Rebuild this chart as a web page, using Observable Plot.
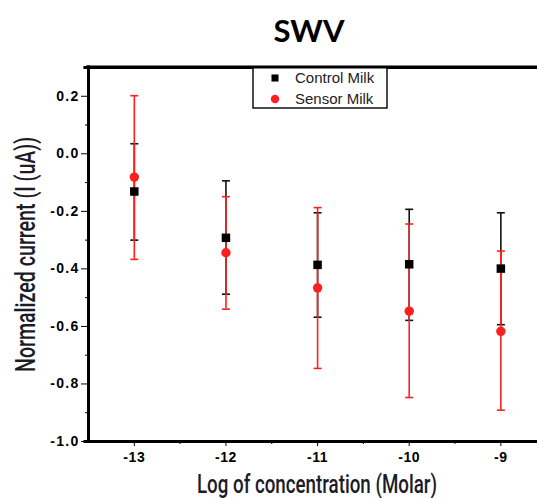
<!DOCTYPE html>
<html>
<head>
<meta charset="utf-8">
<script src="https://cdn.jsdelivr.net/npm/d3@7"></script>
<script src="https://cdn.jsdelivr.net/npm/@observablehq/plot@0.6"></script>
<style>
  html, body { margin: 0; padding: 0; background: #fff; }
  #chart svg { display: block; }
</style>
</head>
<body>
<div id="chart"></div>
<script>
// ---- data ----
const concentrations = [-13, -12, -11, -10, -9];
const controlMean = [-0.131, -0.292, -0.386, -0.384, -0.399];
const controlLow  = [-0.300, -0.488, -0.568, -0.579, -0.594];
const controlHigh = [ 0.035, -0.094, -0.205, -0.193, -0.205];
const sensorMean  = [-0.081, -0.344, -0.466, -0.547, -0.617];
const sensorLow   = [-0.367, -0.540, -0.746, -0.847, -0.891];
const sensorHigh  = [ 0.202, -0.149, -0.187, -0.244, -0.338];
const xTicks = [-13, -12, -11, -10, -9];
const xMinorTicks = [-12.5, -11.5, -10.5, -9.5];
const yTicks = [0.2, 0.0, -0.2, -0.4, -0.6, -0.8, -1.0];
const yMinorTicks = [0.1, -0.1, -0.3, -0.5, -0.7, -0.9];
const seriesNames = ["Control Milk", "Sensor Milk"];
const titleText = "SWV";
const xLabel = "Log of concentration (Molar)";
const yLabel = "Normalized current (I (uA))";

const control = concentrations.map((c, i) => ({x: c, y: controlMean[i], lo: controlLow[i], hi: controlHigh[i]}));
const sensor = concentrations.map((c, i) => ({x: c, y: sensorMean[i], lo: sensorLow[i], hi: sensorHigh[i]}));

const RED = "#ff1f1f";
const capSymbol = {
  draw(context, size) {
    const r = Math.sqrt(size / Math.PI);
    context.moveTo(-r, 0);
    context.lineTo(r, 0);
  }
};
const fmt = v => (v < 0 ? "-" : "") + Math.abs(v).toFixed(1);

const W = 537, H = 498;
const svg = Plot.plot({
  width: W,
  height: H,
  marginLeft: 88,
  marginRight: 0,
  marginTop: 67,
  marginBottom: 57,
  style: {fontFamily: "'Liberation Sans', Arial, sans-serif", fontSize: "14px", fontWeight: "bold", background: "#fff", overflow: "visible"},
  x: {domain: [-13.5, -8.6]},
  y: {domain: [-1.0, 0.3]},
  marks: [
    Plot.axisY({ticks: yTicks, tickFormat: fmt, tickSize: 7, tickPadding: 2, tickWidth: 1.6, label: null, fontSize: 14, fontWeight: "bold"}),
    Plot.axisY({ticks: yMinorTicks, tickFormat: () => "", tickSize: 3, tickWidth: 1.6, label: null}),
    Plot.axisX({ticks: xTicks, tickFormat: d => String(d), tickSize: 5, tickPadding: 6, tickWidth: 1.6, label: null, fontSize: 14, fontWeight: "bold"}),
    Plot.axisX({ticks: xMinorTicks, tickFormat: () => "", tickSize: 3, tickWidth: 1.6, label: null}),
    // error bars: control (black)
    Plot.ruleX(control, {x: "x", y1: "lo", y2: "hi", stroke: "#111", strokeWidth: 1.6}),
    Plot.dot(control, {x: "x", y: "lo", symbol: capSymbol, r: 4, stroke: "#111", strokeWidth: 1.6}),
    Plot.dot(control, {x: "x", y: "hi", symbol: capSymbol, r: 4, stroke: "#111", strokeWidth: 1.6}),
    // error bars: sensor (red)
    Plot.ruleX(sensor, {x: "x", y1: "lo", y2: "hi", stroke: RED, strokeWidth: 1.6}),
    Plot.dot(sensor, {x: "x", y: "lo", symbol: capSymbol, r: 4, stroke: RED, strokeWidth: 1.6}),
    Plot.dot(sensor, {x: "x", y: "hi", symbol: capSymbol, r: 4, stroke: RED, strokeWidth: 1.6}),
    // markers
    Plot.dot(control, {x: "x", y: "y", symbol: "square", r: 4.8, fill: "#000", stroke: null}),
    Plot.dot(sensor, {x: "x", y: "y", symbol: "circle", r: 4.7, fill: RED, stroke: null}),
    // frame lines
    Plot.ruleY([0.3], {x1: -13.55, x2: -8.6, stroke: "#000", strokeWidth: 3}),
    Plot.ruleY([-1.0], {x1: -13.55, x2: -8.6, stroke: "#000", strokeWidth: 3}),
    Plot.ruleX([-13.5], {y1: -1.005, y2: 0.305, stroke: "#000", strokeWidth: 3})
  ]
});

const s = d3.select(svg);
// widen tick labels slightly to match the reference's wide bold digits
s.selectAll("[aria-label='y-axis tick label'] text")
  .style("letter-spacing", "1.3px");
s.selectAll("[aria-label='x-axis tick label'] text")
  .style("letter-spacing", "0.6px");

// title
s.append("text")
  .attr("x", 309).attr("y", 42)
  .attr("text-anchor", "middle")
  .style("font-family", "Lato, 'Open Sans', sans-serif")
  .style("font-weight", "bold")
  .style("font-size", "31px")
  .attr("fill", "#000")
  .text(titleText);

// axis labels (condensed)
s.append("text")
  .attr("x", 197).attr("y", 493)
  .attr("text-anchor", "start")
  .attr("textLength", 240).attr("lengthAdjust", "spacingAndGlyphs")
  .style("font-family", "Roboto, sans-serif")
  .style("font-weight", "500")
  .style("font-size", "25px")
  .attr("fill", "#1c1c28")
  .text(xLabel);

s.append("text")
  .attr("transform", "translate(35,372) rotate(-90)")
  .attr("x", 0).attr("y", 0)
  .attr("text-anchor", "start")
  .attr("textLength", 235).attr("lengthAdjust", "spacingAndGlyphs")
  .style("font-family", "Roboto, sans-serif")
  .style("font-weight", "500")
  .style("font-size", "27px")
  .attr("fill", "#1c1c28")
  .text(yLabel);

// legend
const lg = s.append("g")
  .attr("text-anchor", "start")
  .style("font-family", "'Liberation Sans', Arial, sans-serif")
  .style("font-weight", "normal")
  .style("font-size", "15px");
lg.append("rect")
  .attr("x", 253).attr("y", 67).attr("width", 134).attr("height", 41)
  .attr("fill", "#fff").attr("stroke", "#111").attr("stroke-width", 1.5);
lg.append("path")
  .attr("transform", "translate(275,78)")
  .attr("d", d3.symbol(d3.symbolSquare, 50)())
  .attr("fill", "#000");
lg.append("path")
  .attr("transform", "translate(275,99)")
  .attr("d", d3.symbol(d3.symbolCircle, 55)())
  .attr("fill", RED);
lg.append("text").attr("x", 295).attr("y", 83).attr("fill", "#222").text(seriesNames[0]);
lg.append("text").attr("x", 295).attr("y", 104).attr("fill", "#222").text(seriesNames[1]);
// redraw top frame line over legend box edge
s.append("line").attr("x1", 86).attr("x2", W).attr("y1", 67).attr("y2", 67)
  .attr("stroke", "#000").attr("stroke-width", 3);

document.getElementById("chart").appendChild(svg);
</script>
</body>
</html>
